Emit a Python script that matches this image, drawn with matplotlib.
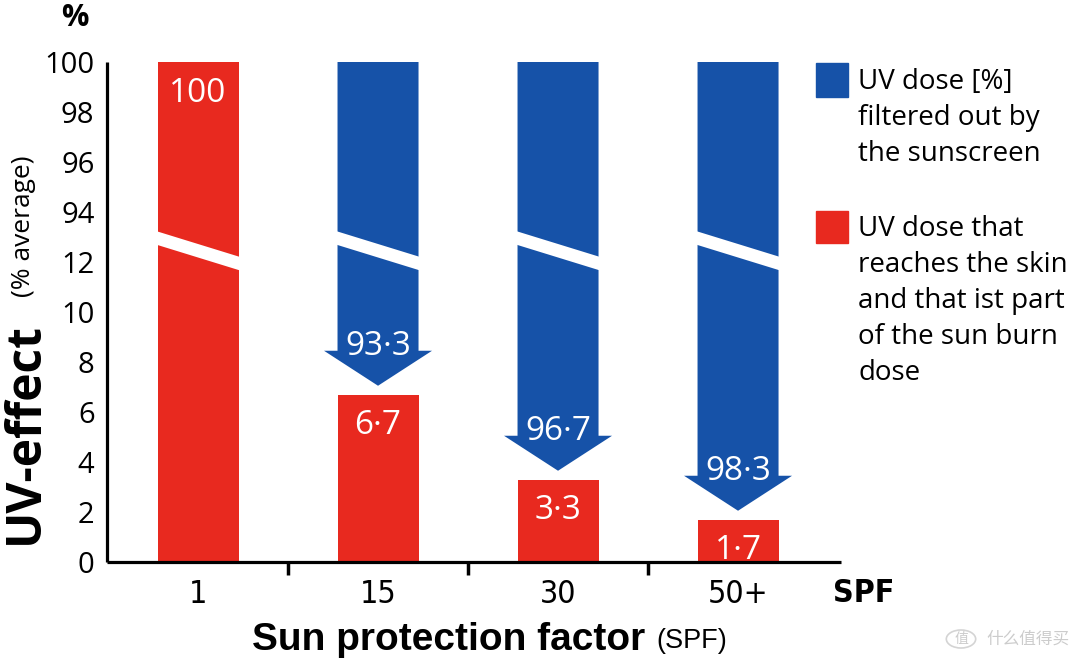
import matplotlib.pyplot as plt
from matplotlib.patches import Polygon, Rectangle, Circle

W, H = 1080, 662

# data
spf_labels = ['1', '15', '30', '50+']
reach_skin = [100, 6.7, 3.3, 1.7]          # red: UV dose reaching the skin
filtered = [None, 93.3, 96.7, 98.3]        # blue: UV dose filtered out
ytick_vals = [0, 2, 4, 6, 8, 10, 12, 94, 96, 98, 100]

BLUE = '#1652a8'
RED = '#e8291f'
FONT = ['Open Sans', 'DejaVu Sans']
CJK = ['Noto Sans CJK SC', 'DejaVu Sans']

BAR_W = 0.45
HEAD_W = 0.60
HEAD_H = 1.4
GAP = 0.35


def to_disp(v):
    # broken axis: 0..13 kept as is, 94..100 moved down onto 14..20
    return v if v <= 13 else v - 80


def fmt(v):
    return str(int(v)) if v == int(v) else ('%.1f' % v).replace('.', '\u00b7')


def fx(px):
    return px / W


def fy(py):
    return 1 - py / H


plt.rcParams['font.family'] = FONT
fig = plt.figure(figsize=(W / 100, H / 100), dpi=100)
fig.patch.set_facecolor('white')
ax = fig.add_axes([fx(107), fy(562), fx(841) - fx(107), (562 - 62) / H])

ax.set_xlim(-0.5056, 3.572)
ax.set_ylim(0, 20)

for s in ['top', 'right']:
    ax.spines[s].set_visible(False)
for s in ['left', 'bottom']:
    ax.spines[s].set_linewidth(2.3)
    ax.spines[s].set_color('black')
    ax.spines[s].set_capstyle('butt')

ax.set_yticks([to_disp(v) for v in ytick_vals])
ax.set_yticklabels([str(v) for v in ytick_vals], fontsize=21, fontweight='medium')
ax.tick_params(axis='y', length=0, pad=9)

ax.set_xticks(range(len(spf_labels)))
ax.set_xticklabels(spf_labels, fontsize=23, family='DejaVu Sans', stretch='condensed')
ax.set_xticks([i + 0.5 for i in range(len(spf_labels) - 1)], minor=True)
ax.tick_params(axis='x', which='major', length=0, pad=12)
ax.tick_params(axis='x', which='minor', length=9, width=2.5, direction='out')

# red bars
for i, v in enumerate(reach_skin):
    ax.bar(i, to_disp(v), width=BAR_W, color=RED, zorder=2)
    ax.text(i, to_disp(v) - 1.25, fmt(v), color='white', fontsize=24,
            ha='center', va='center', zorder=5)

# blue arrows coming down from 100 %
for i, f in enumerate(filtered):
    if f is None:
        continue
    tip = to_disp(reach_skin[i]) + GAP
    base = tip + HEAD_H
    top = to_disp(100)
    pts = [(i - BAR_W / 2, top), (i + BAR_W / 2, top), (i + BAR_W / 2, base),
           (i + HEAD_W / 2, base), (i, tip), (i - HEAD_W / 2, base),
           (i - BAR_W / 2, base)]
    ax.add_patch(Polygon(pts, closed=True, color=BLUE, lw=0, zorder=2))
    ax.text(i, base + 0.18, fmt(f), color='white', fontsize=24,
            ha='center', va='center', zorder=5)

# axis-break slashes across the tall bars
slope = 1.0 / BAR_W
for i in range(len(spf_labels)):
    xl, xr = i - BAR_W / 2 - 0.02, i + BAR_W / 2 + 0.02
    yl = 12.45 + (i - xl) * slope
    yr = 12.45 - (xr - i) * slope
    ax.add_patch(Polygon([(xl, yl + 0.27), (xr, yr + 0.27), (xr, yr - 0.27), (xl, yl - 0.27)],
                         closed=True, color='white', lw=0, zorder=3))

# axis titles
fig.text(fx(75), fy(18), '%', fontsize=22, fontweight='bold', ha='center', va='center')
fig.text(fx(25), fy(433), 'UV-effect', fontsize=34.5, fontweight='bold',
         rotation=90, ha='center', va='center')
fig.text(fx(24), fy(226), '(% average)', fontsize=19,
         rotation=90, ha='center', va='center')
fig.text(fx(833), fy(593), 'SPF', fontsize=23, fontweight='bold',
         family='DejaVu Sans', stretch='condensed', ha='left', va='center')
fig.text(fx(645), fy(650), 'Sun protection factor', fontsize=28, fontweight='bold',
         family='Liberation Sans', ha='right', va='baseline')
fig.text(fx(656), fy(648), '(SPF)', fontsize=19.5,
         family='Liberation Sans', ha='left', va='baseline')

# legend
fig.add_artist(Rectangle((fx(816), fy(97)), fx(32), 34 / H, color=BLUE,
                         transform=fig.transFigure))
fig.add_artist(Rectangle((fx(816), fy(243)), fx(32), 32 / H, color=RED,
                         transform=fig.transFigure))
fig.text(fx(858), fy(118), 'UV dose [%]\nfiltered out by\nthe sunscreen',
         fontsize=20, linespacing=1.38, ha='left', va='center')
fig.text(fx(858), fy(301), 'UV dose that\nreaches the skin\nand that ist part\n'
         'of the sun burn\ndose', fontsize=20, linespacing=1.37, ha='left', va='center')

# watermark
fig.add_artist(Circle((fx(961), fy(639)), 9 / H, transform=fig.transFigure,
                      fill=False, ec='#d4d4d4', lw=1.2))
fig.text(fx(961), fy(639), '值', fontsize=10, color='#cccccc', family=CJK,
         ha='center', va='center')
fig.text(fx(1070), fy(639), '什么值得买', fontsize=12, color='#cccccc',
         family=CJK, ha='right', va='center')

fig.savefig('out.png', dpi=100, facecolor='white')
